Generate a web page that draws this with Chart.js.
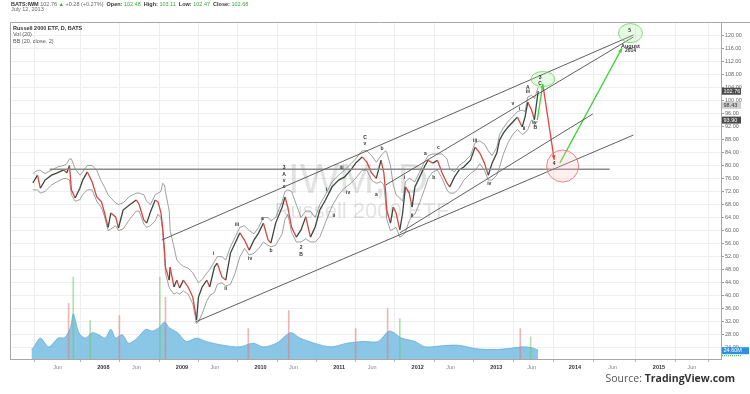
<!DOCTYPE html>
<html>
<head>
<meta charset="utf-8">
<script src="https://cdn.jsdelivr.net/npm/chart.js@4.4.0/dist/chart.umd.min.js"></script>
<style>
  html, body { margin: 0; padding: 0; background: #fff; }
  #wrap { position: relative; width: 750px; height: 394px; }
  #source { position: absolute; right: 15px; top: 371px; font: 10.5px "Open Sans", sans-serif; color: #555; white-space: nowrap; }
  #source b { color: #333; font-weight: 700; }
</style>
</head>
<body>
<div id="wrap">
  <canvas id="chart" width="750" height="394"></canvas>
  <div id="source">Source: <b>TradingView.com</b></div>
</div>
<script>
// price series (decimal year, close)
const dates = [2007.102, 2007.162, 2007.198, 2007.257, 2007.341, 2007.413, 2007.497, 2007.533, 2007.569, 2007.593,
  2007.641, 2007.701, 2007.737, 2007.796, 2007.856, 2007.916, 2007.976, 2008.012, 2008.060, 2008.096,
  2008.156, 2008.192, 2008.251, 2008.335, 2008.419, 2008.455, 2008.515, 2008.551, 2008.599, 2008.659,
  2008.695, 2008.731, 2008.754, 2008.778, 2008.790, 2008.838, 2008.850, 2008.898, 2008.934, 2008.970,
  2009.018, 2009.078, 2009.138, 2009.186, 2009.210, 2009.257, 2009.317, 2009.353, 2009.413, 2009.449,
  2009.509, 2009.557, 2009.617, 2009.677, 2009.737, 2009.796, 2009.856, 2009.916, 2009.976, 2010.036,
  2010.096, 2010.132, 2010.192, 2010.275, 2010.311, 2010.347, 2010.395, 2010.455, 2010.515, 2010.575,
  2010.635, 2010.695, 2010.754, 2010.826, 2010.910, 2010.994, 2011.066, 2011.150, 2011.210, 2011.293,
  2011.353, 2011.413, 2011.473, 2011.533, 2011.569, 2011.593, 2011.605, 2011.653, 2011.689, 2011.725,
  2011.772, 2011.808, 2011.844, 2011.892, 2011.928, 2011.964, 2012.024, 2012.084, 2012.132, 2012.192,
  2012.251, 2012.311, 2012.371, 2012.407, 2012.467, 2012.527, 2012.587, 2012.671, 2012.731, 2012.790,
  2012.850, 2012.898, 2012.946, 2013.006, 2013.042, 2013.090, 2013.150, 2013.210, 2013.269, 2013.329,
  2013.365, 2013.401, 2013.449, 2013.485, 2013.533];
const closes = [74.6, 77.0, 73.0, 75.5, 77.0, 77.7, 78.6, 77.7, 80.0, 72.5,
  70.0, 73.0, 75.5, 78.0, 75.0, 70.3, 68.8, 65.7, 61.0, 65.4,
  64.2, 60.8, 66.3, 67.9, 69.4, 68.0, 63.3, 62.3, 65.7, 69.4,
  68.8, 65.7, 61.0, 54.0, 48.8, 44.8, 48.8, 42.7, 44.8, 42.4,
  44.8, 42.7, 39.6, 32.6, 39.6, 42.7, 44.8, 42.7, 48.8, 50.0,
  45.8, 44.8, 53.1, 56.2, 59.3, 57.1, 54.0, 57.1, 59.3, 62.3,
  57.1, 56.2, 62.3, 67.2, 70.3, 67.2, 61.1, 58.0, 60.2, 64.2,
  58.0, 61.1, 66.3, 69.4, 73.4, 75.5, 76.4, 78.6, 80.7, 82.6,
  81.0, 77.7, 76.0, 81.6, 77.7, 71.5, 66.3, 62.3, 67.2, 65.4,
  60.2, 65.4, 73.4, 71.5, 67.2, 73.4, 76.4, 79.5, 81.6, 80.7,
  81.6, 77.7, 74.6, 73.4, 76.4, 78.6, 79.5, 81.6, 85.6, 83.8,
  80.7, 77.0, 80.7, 83.8, 87.8, 89.9, 91.8, 93.3, 94.8, 91.8,
  94.8, 99.4, 97.0, 94.0, 102.8];
const bbUpper = [77.5, 78.5, 78.5, 77.5, 78.5, 79.5, 80.0, 80.5, 82.0, 82.0,
  79.0, 77.0, 78.0, 80.0, 80.0, 78.5, 75.0, 73.5, 71.0, 70.0,
  68.5, 68.0, 68.5, 70.5, 71.5, 71.5, 71.0, 69.0, 68.0, 71.0,
  71.5, 72.0, 74.5, 74.0, 72.0, 66.0, 60.0, 55.0, 51.0, 50.0,
  49.0, 48.5, 47.0, 45.0, 44.0, 45.0, 47.0, 48.0, 50.5, 52.0,
  52.0, 51.0, 55.0, 58.0, 61.0, 61.5, 60.0, 59.0, 61.0, 64.0,
  64.0, 63.0, 64.0, 69.0, 72.0, 72.5, 72.0, 68.0, 64.0, 66.0,
  66.0, 64.0, 68.0, 71.0, 75.0, 77.0, 78.5, 80.5, 82.0, 84.5,
  84.5, 83.0, 81.0, 83.0, 84.0, 84.5, 84.0, 80.0, 74.0, 71.0,
  70.0, 69.0, 75.0, 76.0, 75.5, 75.0, 78.0, 81.0, 83.0, 83.5,
  83.5, 83.5, 82.0, 79.0, 78.0, 80.0, 81.0, 83.0, 87.0, 87.5,
  86.5, 84.5, 83.0, 85.5, 89.5, 91.5, 93.5, 95.0, 96.5, 97.0,
  96.5, 101.0, 101.5, 100.5, 104.0];
const bbLower = [72.5, 72.5, 71.5, 72.0, 74.0, 75.0, 76.0, 76.0, 75.5, 71.0,
  69.0, 69.5, 71.0, 72.5, 72.5, 69.0, 67.0, 64.5, 60.0, 60.5,
  61.5, 60.0, 60.5, 63.5, 66.0, 66.0, 62.0, 61.0, 61.5, 63.0,
  65.0, 64.0, 60.0, 52.0, 47.0, 42.5, 42.0, 40.5, 41.0, 40.5,
  41.5, 40.5, 37.5, 31.5, 32.0, 34.5, 38.5, 40.0, 41.0, 43.5,
  44.0, 43.0, 43.5, 47.0, 52.0, 54.5, 52.5, 53.0, 54.5, 56.5,
  55.5, 55.0, 55.5, 59.0, 63.5, 65.0, 59.5, 56.5, 56.5, 57.5,
  56.5, 56.5, 58.0, 62.5, 67.5, 71.0, 73.0, 74.5, 76.0, 78.5,
  78.5, 75.5, 74.5, 75.0, 74.0, 68.5, 63.5, 60.0, 60.5, 61.0,
  58.0, 58.5, 59.5, 63.0, 64.5, 65.0, 68.5, 72.5, 76.0, 78.0,
  78.5, 76.0, 72.5, 71.5, 71.5, 73.0, 75.5, 77.5, 78.5, 80.5,
  78.5, 75.5, 75.5, 77.0, 79.5, 83.5, 87.0, 89.5, 91.0, 89.5,
  90.0, 91.0, 94.0, 92.5, 93.5];

// volume (millions of shares)
const volDates = [2007.085, 2007.102, 2007.198, 2007.305, 2007.425, 2007.509, 2007.581, 2007.617, 2007.689, 2007.772, 2007.856,
  2007.940, 2008.024, 2008.096, 2008.156, 2008.240, 2008.323, 2008.431, 2008.539, 2008.623, 2008.707,
  2008.778, 2008.838, 2008.946, 2009.054, 2009.186, 2009.305, 2009.521, 2009.737, 2009.904, 2010.036,
  2010.204, 2010.383, 2010.503, 2010.683, 2010.898, 2011.102, 2011.317, 2011.497, 2011.641, 2011.796,
  2011.964, 2012.096, 2012.299, 2012.515, 2012.731, 2012.946, 2013.162, 2013.329, 2013.461, 2013.533];
const volumes = [30, 31, 62, 36, 62, 64, 93, 134, 78, 62, 78,
  72, 62, 88, 62, 72, 47, 62, 88, 83, 93,
  109, 93, 78, 52, 62, 52, 41, 36, 47, 36,
  47, 78, 62, 47, 36, 47, 52, 52, 83, 62,
  52, 36, 39, 41, 31, 28, 31, 36, 33, 26];
const spikeDates = [2007.557, 2007.617, 2007.832, 2008.204, 2008.719, 2008.790, 2009.844, 2010.359, 2011.210, 2011.617, 2011.772, 2013.305, 2013.437];
const spikeVols = [165, 243, 114, 129, 243, 183, 90, 144, 90, 150, 120, 90, 66];
const spikeUp = [false, true, true, false, true, false, false, false, false, false, true, false, true];

// drawn trend lines [t1, v1, t2, v2]
const channelLines = [
  [2008.743, 57.1, 2014.743, 120.0],
  [2009.174, 32.0, 2014.743, 89.3],
  [2011.772, 59.3, 2014.228, 95.8],
  [2011.593, 74.0, 2014.743, 119.4]
];
const levelLine = [2007.317, 78.8, 2014.443, 78.8];
const redArrow = [2013.593, 104.7, 2013.737, 81.7];
const greenArrows = [
  [2013.521, 93.9, 2013.593, 105.0],
  [2013.808, 80.7, 2014.599, 116.0]
];

// target circles
const circleT = [2013.593, 2014.707, 2013.844];
const circleV = [106.5, 120.6, 79.8];
const circleKind = ['green', 'green', 'red'];

// wave count labels
const waveText = ['i', 'ii', 'iii', 'iv', 'a', 'b', '3', 'A', 'v', 'c', '2', 'B', 'i', 'ii', 'iii', 'iv', 'C', 'v', 'a', 'b',
  'i', 'ii', 'a', 'c', 'b', 'iii', 'iv', 'v', 'i', 'ii', 'A', 'iii', 'iv', 'B', '3', 'C', '4', '5', 'August', '2014'];
const waveT = [2009.401, 2009.557, 2009.701, 2009.868, 2010.024, 2010.132, 2010.299, 2010.299, 2010.299, 2010.299,
  2010.515, 2010.515, 2010.838, 2010.934, 2011.030, 2011.114, 2011.329, 2011.329, 2011.473, 2011.545,
  2011.832, 2011.928, 2012.096, 2012.263, 2012.204, 2012.731, 2012.910, 2013.210, 2013.293, 2013.353,
  2013.401, 2013.401, 2013.485, 2013.497, 2013.557, 2013.557, 2013.737, 2014.695, 2014.707, 2014.707];
const waveV = [52.8, 42.1, 61.7, 51.3, 63.6, 53.7, 79.2, 77.1, 75.2, 73.4,
  54.7, 52.5, 72.5, 64.5, 79.2, 71.8, 88.4, 86.6, 70.9, 85.3,
  76.4, 64.5, 83.5, 85.6, 76.1, 87.5, 74.3, 99.1, 97.3, 91.2,
  104.0, 102.5, 93.0, 91.5, 106.8, 105.0, 80.4, 121.5, 116.6, 115.1];

// axes
const xTickPos = [2007.42, 2008, 2008.42, 2009, 2009.42, 2010, 2010.42, 2011, 2011.42, 2012, 2012.42, 2013, 2013.45, 2014, 2014.48, 2015.07, 2015.49];
const xTickLabels = ['Jun', '2008', 'Jun', '2009', 'Jun', '2010', 'Jun', '2011', 'Jun', '2012', 'Jun', '2013', 'Jun', '2014', 'Jun', '2015', 'Jun'];
const yTickVals = [24, 28, 32, 36, 40, 44, 48, 52, 56, 60, 64, 68, 72, 76, 80, 84, 88, 92, 96, 100, 104, 108, 112, 116, 120];

// last-value tags on the price scale
const priceTags = [102.76, 98.43, 93.90];
const priceTagText = ['102.76', '98.43', '93.90'];
const volTag = 24.6;

const FONT = '"Liberation Sans", Arial, sans-serif';
const UP = '#3a463b', DOWN = '#d8463f';

function pts(xs, ys) { return xs.map((x, i) => ({ x: x, y: ys[i] })); }
function seg(l) { return [{ x: l[0], y: l[1] }, { x: l[2], y: l[3] }]; }

const datasets = [];

channelLines.forEach(l => datasets.push({
    data: seg(l), borderColor: '#4d4d4d', borderWidth: 0.9, pointRadius: 0, order: 0
}));
datasets.push({ data: seg(levelLine), borderColor: '#8a8a8a', borderWidth: 1.6, pointRadius: 0, order: 0 });
datasets.push({ id: 'arrow', data: seg(redArrow), borderColor: '#e5453c', borderWidth: 1.3, pointRadius: 0, order: 0 });
greenArrows.forEach(l => datasets.push({
    id: 'arrow', data: seg(l), borderColor: '#3fd43a', borderWidth: 1.3, pointRadius: 0, order: 0
}));
datasets.push({
    data: pts(dates, closes), borderWidth: 1.3, pointRadius: 0, order: 1,
    segment: { borderColor: c => c.p1.parsed.y < c.p0.parsed.y ? DOWN : UP }
});
datasets.push({ data: pts(dates, bbUpper), borderColor: '#777', borderWidth: 0.7, pointRadius: 0, order: 2 });
datasets.push({ data: pts(dates, bbLower), borderColor: '#777', borderWidth: 0.7, pointRadius: 0, order: 2 });
datasets.push({
    type: 'bar', yAxisID: 'yv', data: pts(spikeDates, spikeVols), barThickness: 1, order: 5,
    backgroundColor: spikeUp.map(u => u ? 'rgba(110,200,110,0.55)' : 'rgba(225,120,120,0.55)')
});
datasets.push({
    yAxisID: 'yv', data: pts(volDates, volumes), fill: 'origin', tension: 0.3, pointRadius: 0, order: 6,
    backgroundColor: 'rgba(118,188,226,0.85)', borderColor: 'rgba(90,168,220,0.9)', borderWidth: 0.8
});

const overlay = {
    id: 'overlay',
    beforeDatasetsDraw(chart) {
        const ctx = chart.ctx;
        ctx.save();
        ctx.fillStyle = 'rgba(0,0,0,0.11)';
        ctx.textAlign = 'center';
        ctx.textBaseline = 'alphabetic';
        ctx.font = '42px ' + FONT;
        ctx.fillText('IWM, D', 358, 193);
        ctx.font = '22px ' + FONT;
        ctx.fillText('Russell 2000 ETF', 362, 218);
        ctx.restore();
    },
    afterDatasetsDraw(chart) {
        const ctx = chart.ctx, xs = chart.scales.x, ys = chart.scales.y;
        ctx.save();
        // circles
        const look = {
            green: { fill: 'rgba(160,235,150,0.25)', stroke: 'rgba(110,215,100,0.85)' },
            red: { fill: 'rgba(255,190,190,0.25)', stroke: 'rgba(240,110,110,0.85)' }
        };
        const radii = [[12, 7.5], [12, 9.5], [16, 16]];
        circleT.forEach((t, i) => {
            const cx = xs.getPixelForValue(t), cy = ys.getPixelForValue(circleV[i]);
            ctx.beginPath();
            ctx.ellipse(cx, cy, radii[i][0], radii[i][1], 0, 0, Math.PI * 2);
            ctx.fillStyle = look[circleKind[i]].fill;
            ctx.fill();
            ctx.lineWidth = 1;
            ctx.strokeStyle = look[circleKind[i]].stroke;
            ctx.stroke();
        });
        // arrow heads
        chart.data.datasets.forEach((ds, i) => {
            if (ds.id !== 'arrow') return;
            const el = chart.getDatasetMeta(i).data;
            const a = el[0], b = el[1];
            const ang = Math.atan2(b.y - a.y, b.x - a.x);
            ctx.beginPath();
            ctx.moveTo(b.x, b.y);
            ctx.lineTo(b.x - 5 * Math.cos(ang - 0.4), b.y - 5 * Math.sin(ang - 0.4));
            ctx.lineTo(b.x - 5 * Math.cos(ang + 0.4), b.y - 5 * Math.sin(ang + 0.4));
            ctx.closePath();
            ctx.fillStyle = ds.borderColor;
            ctx.fill();
        });
        // wave labels
        ctx.fillStyle = '#333';
        ctx.textAlign = 'center';
        ctx.textBaseline = 'middle';
        waveText.forEach((s, i) => {
            ctx.font = (s === 'August' ? 'bold 5.5px ' : 'bold 5px ') + FONT;
            ctx.fillText(s, xs.getPixelForValue(waveT[i]), ys.getPixelForValue(waveV[i]));
        });
        ctx.restore();
    },
    afterDraw(chart) {
        const ctx = chart.ctx, a = chart.chartArea, ys = chart.scales.y, yv = chart.scales.yv;
        ctx.save();
        // pane frame
        ctx.strokeStyle = '#a8a8a8';
        ctx.lineWidth = 1;
        ctx.beginPath();
        ctx.moveTo(a.left + 0.5, a.bottom);
        ctx.lineTo(a.left + 0.5, a.top + 0.5);
        ctx.lineTo(750, a.top + 0.5);
        ctx.stroke();

        // header
        ctx.textBaseline = 'middle';
        ctx.textAlign = 'left';
        const parts = [
            ['BATS:IWM ', '#333', 'bold'], ['102.76 ', '#666', ''], ['\u25B2 ', '#3aa83a', ''], ['+0.28 (+0.27%)  ', '#666', ''],
            ['Open: ', '#333', 'bold'], ['102.48  ', '#3aa83a', ''], ['High: ', '#333', 'bold'], ['103.11  ', '#3aa83a', ''],
            ['Low: ', '#333', 'bold'], ['102.47  ', '#3aa83a', ''], ['Close: ', '#333', 'bold'], ['102.68', '#3aa83a', '']
        ];
        let x = 11;
        parts.forEach(p => {
            ctx.font = (p[2] ? 'bold ' : '') + '5.5px ' + FONT;
            ctx.fillStyle = p[1];
            ctx.fillText(p[0], x, 4);
            x += ctx.measureText(p[0]).width;
        });
        ctx.font = '5.5px ' + FONT;
        ctx.fillStyle = '#666';
        ctx.fillText('July 12, 2013', 11, 9.5);
        ctx.font = 'bold 5.5px ' + FONT;
        ctx.fillStyle = '#333';
        ctx.fillText('Russell 2000 ETF, D, BATS', 13, 28);
        ctx.font = '5.5px ' + FONT;
        ctx.fillStyle = '#555';
        ctx.fillText('Vol (20)', 13, 34.5);
        ctx.fillText('BB (20, close, 2)', 13, 41.5);

        // last-value tags
        const tagBg = ['#4a4a4a', '#cfcfcf', '#4a4a4a'];
        const tagFg = ['#fff', '#333', '#fff'];
        priceTags.forEach((v, i) => {
            const y = ys.getPixelForValue(v);
            ctx.fillStyle = tagBg[i];
            ctx.fillRect(a.right + 1, y - 3.5, 19, 7);
            ctx.fillStyle = tagFg[i];
            ctx.font = '5.5px ' + FONT;
            ctx.fillText(priceTagText[i], a.right + 2.5, y);
        });
        const vy = yv.getPixelForValue(volTag);
        ctx.fillStyle = '#2f8fe0';
        ctx.fillRect(a.right + 1, vy - 3.5, 27, 7);
        ctx.fillStyle = '#fff';
        ctx.fillText('24.60M', a.right + 2.5, vy);
        ctx.setLineDash([1, 1]);
        ctx.strokeStyle = '#2fb52f';
        ctx.beginPath();
        ctx.moveTo(a.right + 1, vy + 5);
        ctx.lineTo(a.right + 20, vy + 5);
        ctx.stroke();
        ctx.restore();
    }
};

new Chart(document.getElementById('chart'), {
    type: 'line',
    data: { datasets: datasets },
    options: {
        responsive: false,
        animation: false,
        layout: { padding: { left: 10, top: 22, right: 0, bottom: 0 } },
        plugins: { legend: { display: false }, tooltip: { enabled: false } },
        scales: {
            x: {
                type: 'linear', min: 2007.078, max: 2015.593,
                afterBuildTicks: s => { s.ticks = xTickPos.map(v => ({ value: v })); },
                afterFit: s => { s.height = 35; },
                ticks: {
                    autoSkip: false, maxRotation: 0, padding: 2,
                    callback: (v, i) => xTickLabels[i],
                    font: c => ({ size: 5.5, family: FONT, weight: /^\d/.test(xTickLabels[c.index] || '') ? 'bold' : 'normal' }),
                    color: c => /^\d/.test(xTickLabels[c.index] || '') ? '#333' : '#888'
                },
                grid: { color: '#ededed', tickLength: 3, tickColor: '#b5b5b5' },
                border: { color: '#a8a8a8' }
            },
            y: {
                position: 'right', min: 20.6, max: 124,
                afterBuildTicks: s => { s.ticks = yTickVals.map(v => ({ value: v })); },
                afterFit: s => { s.width = 29; },
                ticks: { callback: v => v.toFixed(2), font: { size: 5.5, family: FONT }, color: '#666', padding: 1 },
                grid: { color: '#efefef', tickLength: 3, tickColor: '#999' },
                border: { color: '#a8a8a8' }
            },
            yv: { display: false, min: 0, max: 1000 }
        }
    },
    plugins: [overlay]
});
</script>
</body>
</html>
